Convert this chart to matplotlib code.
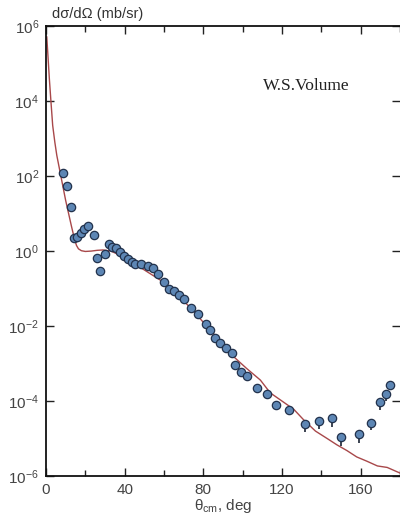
import numpy as np
import matplotlib.pyplot as plt
from matplotlib.ticker import FixedLocator, LogLocator, NullLocator

plt.rcParams['font.family'] = ['Liberation Sans', 'DejaVu Sans']
plt.rcParams['mathtext.fontset'] = 'custom'
plt.rcParams['mathtext.rm'] = 'Liberation Sans'
plt.rcParams['mathtext.it'] = 'Liberation Sans'

# -----------------------------
# Data
# -----------------------------
exp_deg = [8.8, 10.9, 12.6, 14.4, 16.0, 17.8, 19.5, 21.6, 24.3, 25.8, 27.5,
           30.1, 31.8, 33.6, 35.7, 37.7, 39.8, 41.8, 43.7, 45.4, 48.3, 51.8,
           54.4, 57.2, 60.1, 62.7, 65.2, 67.8, 70.3, 73.9, 77.3, 81.5, 83.2,
           86.1, 88.7, 91.6, 94.6, 96.3, 99.2, 102.3, 107.2, 112.5, 117.2,
           123.7, 131.7, 138.8, 145.6, 149.8, 158.9, 165.5, 169.8, 172.9, 174.8]
exp_log = [2.09, 1.74, 1.17, 0.35, 0.38, 0.47, 0.59, 0.67, 0.42, -0.19, -0.52,
           -0.09, 0.18, 0.12, 0.07, -0.03, -0.13, -0.21, -0.30, -0.34, -0.35, -0.40,
           -0.46, -0.62, -0.82, -1.01, -1.07, -1.16, -1.28, -1.53, -1.68, -1.95, -2.11,
           -2.31, -2.45, -2.59, -2.73, -3.04, -3.22, -3.32, -3.65, -3.80, -4.11,
           -4.24, -4.61, -4.52, -4.46, -4.97, -4.89, -4.58, -4.03, -3.80, -3.57]
# error bars only visible at backward angles (in decades below the point)
exp_err = [0.0] * 44 + [0.22, 0.22, 0.22, 0.22, 0.22, 0.2, 0.2, 0.2, 0.0]

calc_deg = [0.4, 1.0, 1.7, 2.5, 3.4, 4.5, 5.5, 7.0, 8.5, 10.0, 11.5, 13.0,
            14.5, 15.5, 16.5, 18.0, 20.0, 23.0, 26.0, 29.0, 33.0, 38.0, 46.0,
            52.0, 58.0, 63.0, 68.0, 75.0, 82.0, 89.0, 95.5, 102.0, 109.0,
            114.0, 120.0, 126.0, 131.0, 137.0, 143.0, 148.0, 153.0, 158.0,
            163.0, 168.5, 173.5, 180.0]
calc_log = [5.71, 5.2, 4.6, 4.0, 3.35, 2.9, 2.55, 2.15, 1.75, 1.35, 1.0, 0.65,
            0.32, 0.15, 0.06, 0.01, -0.01, 0.0, 0.02, 0.03, 0.0, -0.12, -0.37,
            -0.57, -0.77, -0.98, -1.22, -1.6, -2.02, -2.42, -2.82, -3.13, -3.44,
            -3.78, -4.0, -4.22, -4.5, -4.8, -5.0, -5.17, -5.32, -5.49,
            -5.6, -5.73, -5.77, -5.92]

label_text = "W.S.Volume"

# -----------------------------
# Plot
# -----------------------------
fig = plt.figure(figsize=(4.0, 5.22), dpi=100)
ax = fig.add_axes([0.115, 0.088, 0.885, 0.862])

calc_y = 10.0 ** np.array(calc_log)
ax.plot(calc_deg, calc_y, color='#a8484a', lw=1.0, zorder=2)

exp_y = 10.0 ** np.array(exp_log)
err = np.array(exp_err)
lower = exp_y * (1 - 10.0 ** (-err))
upper = np.zeros_like(exp_y)
ax.errorbar(exp_deg, exp_y, yerr=[lower, upper], fmt='none',
            ecolor='#1a2233', elinewidth=1.2, zorder=3)
ax.plot(exp_deg, exp_y, 'o', ms=6.0, mfc='#5d86b4', mec='#22324c',
        mew=0.9, ls='none', zorder=4)

ax.set_yscale('log')
ax.set_xlim(0, 180)
ax.set_ylim(1e-6, 1e6)

ax.xaxis.set_major_locator(FixedLocator([0, 40, 80, 120, 160]))
ax.xaxis.set_minor_locator(FixedLocator([20, 60, 100, 140, 180]))
ax.yaxis.set_major_locator(LogLocator(base=100.0, numticks=10))
ax.yaxis.set_minor_locator(NullLocator())

ax.tick_params(which='both', direction='in', top=True, right=True,
               colors='#222222', labelcolor='#444444', labelsize=11)
ax.tick_params(which='major', length=6, width=1)
ax.tick_params(which='minor', length=4, width=1)
ax.tick_params(axis='y', pad=5)
ax.tick_params(axis='x', pad=5)

for s in ['left', 'bottom', 'top']:
    ax.spines[s].set_linewidth(1.3)
    ax.spines[s].set_color('#111111')
ax.spines['right'].set_visible(False)

ax.set_xlabel(r'$\mathregular{\theta_{cm}}$, deg', fontsize=11,
              color='#444444', labelpad=0)
fig.text(52 / 400, 1 - 14 / 522, 'dσ/dΩ (mb/sr)', fontsize=10.5,
         color='#333333', ha='left', va='center')
ax.text(0.735, 0.867, label_text, transform=ax.transAxes,
        family='Liberation Serif', fontsize=12.5, ha='center', va='center',
        color='#222222')

fig.savefig('out.png', dpi=100)
